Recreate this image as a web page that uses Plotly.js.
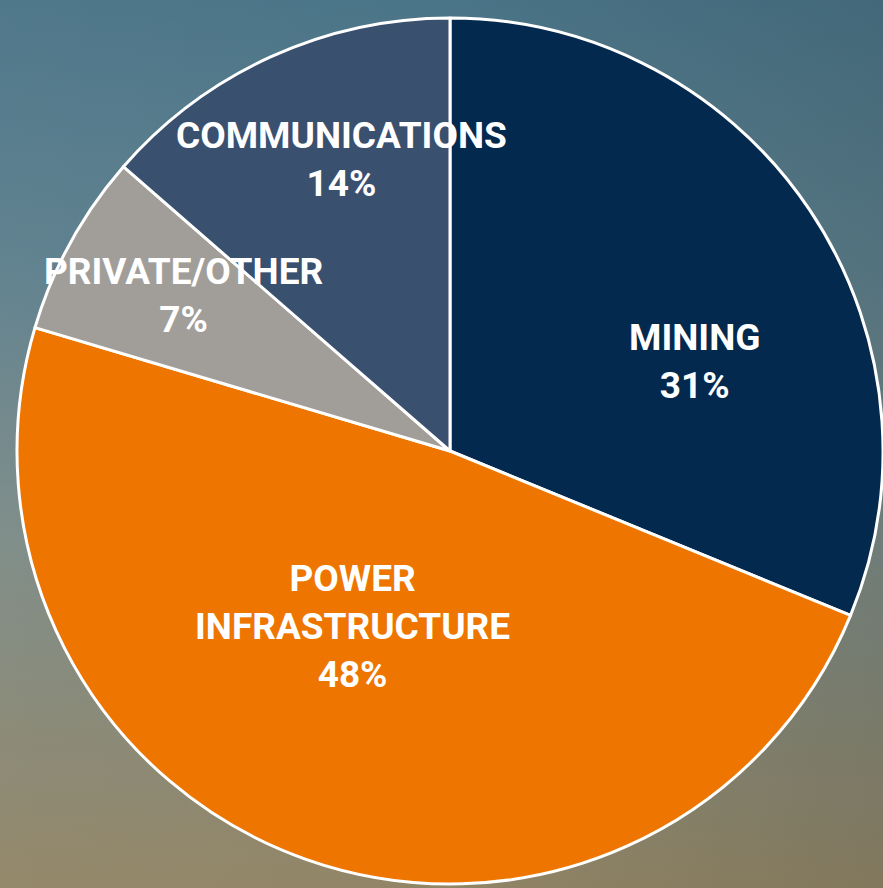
<!DOCTYPE html>
<html>
<head>
<meta charset="utf-8">
<script src="https://cdn.plot.ly/plotly-3.0.1.min.js"></script>
<style>
  html, body { margin: 0; padding: 0; }
  body {
    width: 883px; height: 888px; overflow: hidden;
    background:
      linear-gradient(to right, rgba(255,255,255,0.03) 0%, rgba(0,0,0,0.0) 50%, rgba(10,20,20,0.12) 100%),
      linear-gradient(to bottom, #4a7487 0%, #5d7f8d 30%, #7c8b87 60%, #928566 100%);
  }
  #chart { width: 883px; height: 888px; }
</style>
</head>
<body>
<div id="chart"></div>
<script>
const categories = ["MINING", "POWER INFRASTRUCTURE", "PRIVATE/OTHER", "COMMUNICATIONS"];
const labelLines = ["MINING", "POWER<br>INFRASTRUCTURE", "PRIVATE/OTHER", "COMMUNICATIONS"];
const values = [31.2, 48.4, 6.8, 13.6];
const percentLabels = ["31%", "48%", "7%", "14%"];
const colors = ["#03294f", "#ee7600", "#a19e9a", "#3a506f"];
const labelPos = [[694, 361], [352, 626], [183, 295], [341, 159]];

const W = 883, H = 888;
const annotations = categories.map((c, i) => ({
  xref: "paper", yref: "paper",
  x: labelPos[i][0] / W, y: 1 - labelPos[i][1] / H,
  xanchor: "center", yanchor: "middle",
  text: labelLines[i] + "<br>" + percentLabels[i],
  showarrow: false,
  align: "center",
  font: { family: "Roboto, 'Open Sans', sans-serif", size: 37, color: "#ffffff", weight: "bold" }
}));

const trace = {
  type: "pie",
  labels: categories,
  values: values,
  sort: false,
  direction: "clockwise",
  rotation: 0,
  textinfo: "none",
  hoverinfo: "label+percent",
  marker: { colors: colors, line: { color: "#ffffff", width: 3 } },
  domain: { x: [17 / W, 1], y: [4 / H, 1 - 18 / H] },
  showlegend: false
};

const layout = {
  width: W, height: H,
  margin: { l: 0, r: 0, t: 0, b: 0 },
  paper_bgcolor: "rgba(0,0,0,0)",
  plot_bgcolor: "rgba(0,0,0,0)",
  showlegend: false,
  annotations: annotations
};

Plotly.newPlot("chart", [trace], layout, { displayModeBar: false, staticPlot: true });
</script>
</body>
</html>
